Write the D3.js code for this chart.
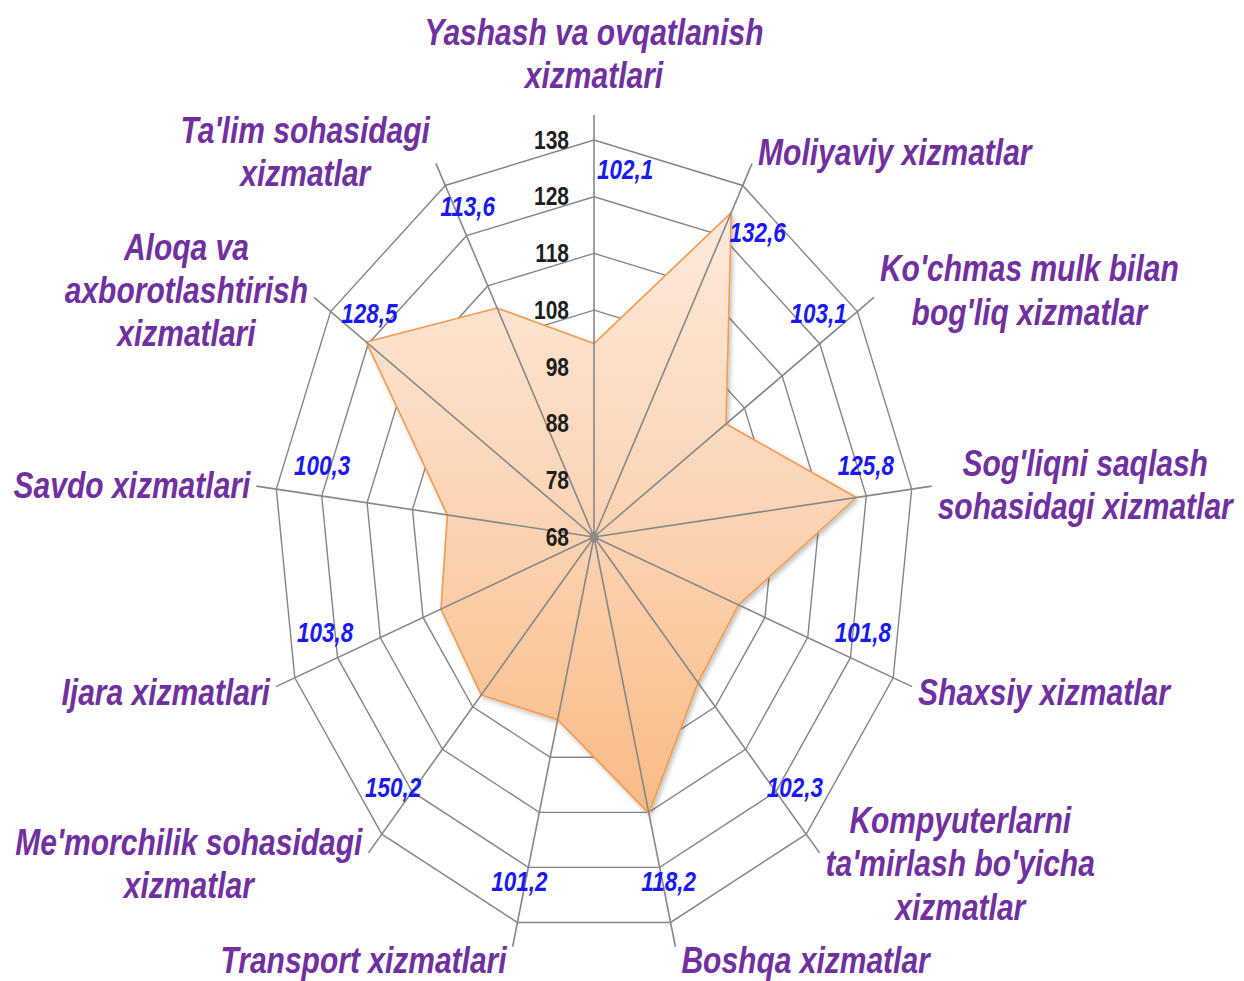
<!DOCTYPE html>
<html>
<head>
<meta charset="utf-8">
<script src="https://cdn.jsdelivr.net/npm/d3@7"></script>
<style>
  body { margin: 0; background: #fff; }
  text { font-family: "Liberation Sans", Arial, sans-serif; }
</style>
</head>
<body>
<div id="chart"></div>
<script>

// categories, clockwise from the top (line breaks as in the original)
let categories = [
  ["Yashash va ovqatlanish", "xizmatlari"],
  ["Moliyaviy xizmatlar"],
  ["Ko'chmas mulk bilan", "bog'liq xizmatlar"],
  ["Sog'liqni saqlash", "sohasidagi xizmatlar"],
  ["Shaxsiy xizmatlar"],
  ["Kompyuterlarni", "ta'mirlash bo'yicha", "xizmatlar"],
  ["Boshqa xizmatlar"],
  ["Transport xizmatlari"],
  ["Me'morchilik sohasidagi", "xizmatlar"],
  ["Ijara xizmatlari"],
  ["Savdo xizmatlari"],
  ["Aloqa va", "axborotlashtirish", "xizmatlari"],
  ["Ta'lim sohasidagi", "xizmatlar"]
]

// plotted values (read from the polygon)
let values = [102.1, 132.6, 103.1, 125.8, 101.8, 102.3, 118.2, 101.2, 105.2, 103.8, 100.3, 128.5, 113.6]

// data label texts as printed on the chart
let valueLabels = ["102,1", "132,6", "103,1", "125,8", "101,8", "102,3", "118,2",
  "101,2", "150,2", "103,8", "100,3", "128,5", "113,6"]

let ticks = [68, 78, 88, 98, 108, 118, 128, 138]

let width = 1244, height = 981
let cx = 594, cy = 537
let stretch = 1.2406      // the original plot is taller than wide
let R = 320

let n = categories.length
let angle = i => i * 2 * Math.PI / n

let r = d3.scaleLinear()
  .domain([ticks[0], ticks[ticks.length - 1]])
  .range([0, R])

let svg = d3.select("#chart")
  .append("svg")
  .attr("width", width)
  .attr("height", height)

let defs = svg.append("defs")
let grad = defs.append("linearGradient")
  .attr("id", "fillGrad")
  .attr("x1", 0).attr("y1", 0).attr("x2", 0).attr("y2", 1)
grad.append("stop").attr("offset", "0%").attr("stop-color", "#fdeadb")
grad.append("stop").attr("offset", "55%").attr("stop-color", "#fbd2b0")
grad.append("stop").attr("offset", "100%").attr("stop-color", "#f9bb85")

defs.append("filter")
  .attr("id", "shadow")
  .attr("x", "-10%").attr("y", "-10%").attr("width", "120%").attr("height", "120%")
  .append("feDropShadow")
  .attr("dx", 2).attr("dy", 2)
  .attr("stdDeviation", 2)
  .attr("flood-color", "#000")
  .attr("flood-opacity", 0.25)

let g = svg.append("g")
  .attr("transform", "translate(" + cx + "," + cy + ") scale(1," + stretch + ")")

// rings
let ringLine = d3.lineRadial()
  .angle((d, i) => angle(i))
  .radius(d => r(d.t))
  .curve(d3.curveLinearClosed)

g.append("g")
  .selectAll("path")
  .data(ticks.slice(1))
  .join("path")
  .attr("d", t => ringLine(categories.map(() => ({ t: t }))))
  .attr("fill", "none")
  .attr("stroke", "#858585")
  .attr("stroke-width", 1.4)
  .attr("vector-effect", "non-scaling-stroke")

// data polygon
let areaLine = d3.lineRadial()
  .angle((d, i) => angle(i))
  .radius(d => r(d))
  .curve(d3.curveLinearClosed)

g.append("path")
  .datum(values)
  .attr("d", areaLine)
  .attr("fill", "url(#fillGrad)")
  .attr("stroke", "#f39a4e")
  .attr("stroke-width", 1.6)
  .attr("vector-effect", "non-scaling-stroke")
  .attr("filter", "url(#shadow)")

// spokes, drawn over the fill
let spokeEnd = R * 1.063
g.append("g")
  .selectAll("line")
  .data(categories)
  .join("line")
  .attr("x1", 0).attr("y1", 0)
  .attr("x2", (d, i) => spokeEnd * Math.sin(angle(i)))
  .attr("y2", (d, i) => -spokeEnd * Math.cos(angle(i)))
  .attr("stroke", "#878787")
  .attr("stroke-width", 1.6)
  .attr("vector-effect", "non-scaling-stroke")

g.append("circle")
  .attr("r", 4.5)
  .attr("fill", "#8a8a8a")

// tick labels along the top axis
g.append("g")
  .selectAll("text")
  .data(ticks)
  .join("text")
  .attr("x", -25)
  .attr("y", t => -r(t) + 7)
  .attr("text-anchor", "end")
  .style("font-size", "21px")
  .style("font-weight", "bold")
  .attr("fill", "#1e1e1e")
  .text(t => t)

// value labels: near the rim, nudged towards the top of the chart
g.append("g")
  .selectAll("text")
  .data(valueLabels)
  .join("text")
  .each(function (d, i) {
    let a = angle(i)
    let shift = a < 0.7 ? 6 : -5 * Math.sin(a)   // upper-right ones sit clockwise of the spoke
    let b = a + shift * Math.PI / 180
    let rr = R * (0.86 + 0.07 * Math.max(0, Math.cos(a)) + 0.04 * Math.max(0, -Math.cos(a)))
    d3.select(this)
      .attr("x", rr * Math.sin(b))
      .attr("y", -rr * Math.cos(b) + 7.5)
  })
  .attr("text-anchor", "middle")
  .style("font-size", "22.5px")
  .style("font-style", "italic")
  .style("font-weight", "bold")
  .attr("fill", "#1a1af0")
  .text(d => d)

// category labels
let fs = 30, lh = 34.8
categories.forEach((lines, i) => {
  let a = angle(i)
  let ex = spokeEnd * Math.sin(a)
  let ey = -spokeEnd * Math.cos(a)
  let t = g.append("text")
    .style("font-size", fs + "px")
    .style("font-weight", "bold")
    .style("font-style", "italic")
    .attr("fill", "#7030a0")
    .attr("text-anchor", "middle")
  let spans = lines.map(l => t.append("tspan").text(l))
  let w = d3.max(spans, s => s.node().getComputedTextLength())
  let mid, first
  if (i === 0) {
    mid = ex
    first = ey - 22 - (lines.length - 1) * lh
  } else {
    mid = Math.sin(a) > 0 ? ex + 6 + w / 2 : ex - 6 - w / 2
    let c = ey - 11 * Math.cos(a)
    first = c - (lines.length - 1) * lh / 2 + fs * 0.36
  }
  spans.forEach((s, k) => s.attr("x", mid).attr("y", first + k * lh))
})

</script>
</body>
</html>
